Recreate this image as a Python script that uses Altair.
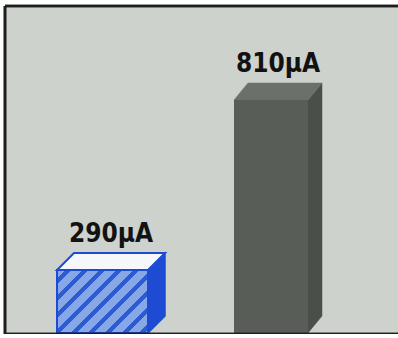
import math
import altair as alt
import pandas as pd

# ---- data ----
categories = ["A", "B"]
values = [290, 810]
labels = ["290µA", "810µA"]

# ---- layout / style constants ----
W, H = 393, 328
Y_DOMAIN = [94.2, 1097.5]
Y_FLOOR = 97.3
PX_PER_UNIT = H / (Y_DOMAIN[1] - Y_DOMAIN[0])
front_left = [52, 229]
front_right = [143, 303]
depth_x = [17, 14]
DEPTH_Y_PX = 17
depth_y = DEPTH_Y_PX / PX_PER_UNIT

BG = "#cdd3cc"
BLUE = "#1d4bd3"
BLUE_LIGHT = "#88a7e6"
BLUE_STRIPE = "#2d5bd2"
GRAY_TOP = "#6b706b"
GRAY_FRONT = "#585d58"
GRAY_SIDE = "#4a4f4a"

# ---- tables built from the arrays ----
front = pd.DataFrame({
    "cat": categories,
    "x0": front_left,
    "x1": front_right,
    "floor": [Y_FLOOR] * len(values),
    "value": values,
    "label": labels,
    "xc": [(a + b + d) / 2 for a, b, d in zip(front_left, front_right, depth_x)],
    "ytop": [v + depth_y for v in values],
})

top_rows, side_rows = [], []
for c, v, a, b, d in zip(categories, values, front_left, front_right, depth_x):
    top_rows += [
        {"cat": c, "x": a, "lo": v, "hi": v},
        {"cat": c, "x": a + d, "lo": v, "hi": v + depth_y},
        {"cat": c, "x": b, "lo": v, "hi": v + depth_y},
        {"cat": c, "x": b + d, "lo": v + depth_y, "hi": v + depth_y},
    ]
    side_rows += [
        {"cat": c, "x": b, "lo": Y_FLOOR, "hi": v},
        {"cat": c, "x": b + d, "lo": Y_FLOOR + depth_y, "hi": v + depth_y},
    ]
top = pd.DataFrame(top_rows)
side = pd.DataFrame(side_rows)

xs = alt.Scale(domain=[0, W], nice=False, zero=False)
ys = alt.Scale(domain=Y_DOMAIN, nice=False, zero=False)
X = lambda f: alt.X(f, type="quantitative", scale=xs, axis=None)
Y = lambda f: alt.Y(f, type="quantitative", scale=ys, axis=None)

# striped gradient for the blue front face
w_px = front_right[0] - front_left[0]
h_px = (values[0] - Y_FLOOR) * PX_PER_UNIT
r = h_px / w_px
k = (1 + r) / (1 + r * r)
D = w_px + h_px
period = 12 * math.sqrt(2) / D
dark = 4.5 * math.sqrt(2) / D
stops = []
t = -period / 2
while t < 1.0:
    a0, a1 = max(t, 0), min(t + dark, 1)
    b1 = min(t + period, 1)
    if a1 > a0:
        stops += [alt.GradientStop(offset=a0, color=BLUE_STRIPE), alt.GradientStop(offset=a1, color=BLUE_STRIPE)]
    if b1 > a1:
        stops += [alt.GradientStop(offset=max(a1, 0), color=BLUE_LIGHT), alt.GradientStop(offset=b1, color=BLUE_LIGHT)]
    t += period
stripe = alt.LinearGradient(gradient="linear", stops=stops, x1=0, y1=0, x2=k, y2=k * r)

fbase = alt.Chart(front)
blue_front = fbase.transform_filter(alt.datum.cat == categories[0]).mark_rect(
    color=stripe, stroke=BLUE, strokeWidth=2
).encode(x=X("x0"), x2="x1", y=Y("floor"), y2="value")
gray_front = fbase.transform_filter(alt.datum.cat == categories[1]).mark_rect(
    color=GRAY_FRONT
).encode(x=X("x0"), x2="x1", y=Y("floor"), y2="value")

tbase = alt.Chart(top)
blue_top = tbase.transform_filter(alt.datum.cat == categories[0]).mark_area(
    orient="vertical", fill="#f6f7fb", stroke=BLUE, strokeWidth=2, strokeJoin="miter"
).encode(x=X("x"), y=Y("lo"), y2="hi", detail="cat:N")
gray_top = tbase.transform_filter(alt.datum.cat == categories[1]).mark_area(
    orient="vertical", fill=GRAY_TOP, stroke=GRAY_TOP, strokeWidth=0.5
).encode(x=X("x"), y=Y("lo"), y2="hi", detail="cat:N")

sbase = alt.Chart(side)
blue_side = sbase.transform_filter(alt.datum.cat == categories[0]).mark_area(
    orient="vertical", fill=BLUE, stroke=BLUE, strokeWidth=1.5
).encode(x=X("x"), y=Y("lo"), y2="hi", detail="cat:N")
gray_side = sbase.transform_filter(alt.datum.cat == categories[1]).mark_area(
    orient="vertical", fill=GRAY_SIDE, stroke=GRAY_SIDE, strokeWidth=0.5
).encode(x=X("x"), y=Y("lo"), y2="hi", detail="cat:N")

text = fbase.mark_text(
    font="DejaVu Sans Condensed", fontWeight="bold", fontSize=26,
    baseline="alphabetic", align="center", dy=-11, color="#121212",
).encode(x=X("xc"), y=Y("ytop"), text="label:N")

frame_l = alt.Chart(front).mark_rule(color="#1e1e1e", strokeWidth=2.6).encode(
    x=alt.value(0), y=alt.value(0), y2=alt.value(H))
frame_t = alt.Chart(front).mark_rule(color="#1e1e1e", strokeWidth=2.6).encode(
    x=alt.value(0), x2=alt.value(W), y=alt.value(0))
frame_b = alt.Chart(front).mark_rule(color="#1e1e1e", strokeWidth=2.6).encode(
    x=alt.value(0), x2=alt.value(W), y=alt.value(H))

chart = alt.layer(
    blue_side, blue_top, blue_front, gray_side, gray_top, gray_front, text,
    frame_l, frame_t, frame_b,
).properties(
    width=W, height=H,
    autosize=alt.AutoSizeParams(type="none"),
    padding={"left": 5, "top": 6, "right": 0, "bottom": 0},
    background="white",
).configure_view(fill=BG, stroke="transparent", strokeWidth=0)

chart.save("out.html", embed_options={"renderer": "svg", "actions": False})
